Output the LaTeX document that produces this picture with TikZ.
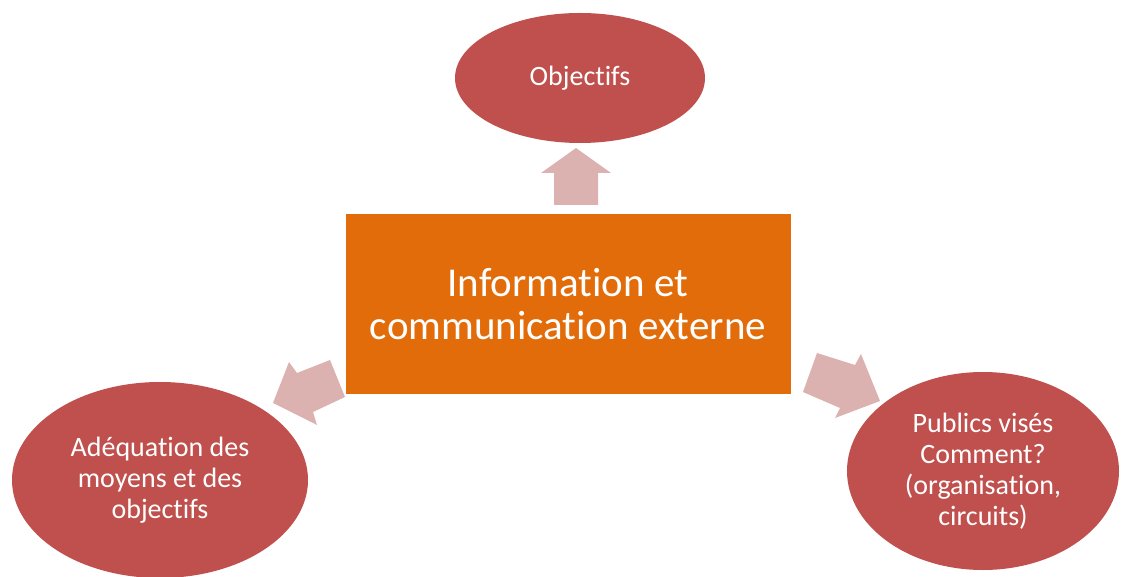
\documentclass[tikz,border=0pt]{standalone}
\usepackage{fontspec}
\setmainfont{Carlito}[RawFeature=-liga]
\usetikzlibrary{shapes.geometric}
\definecolor{ellred}{HTML}{C0504D}
\definecolor{boxorange}{HTML}{E36C0A}
\definecolor{arrpink}{HTML}{DCB2B1}
\begin{document}
\begin{tikzpicture}[x=1pt,y=-1pt,
  bubble/.style={ellipse, fill=ellred, draw=none, text=white, align=center, font=\fontsize{28}{31}\selectfont, inner sep=0pt},
  centerbox/.style={rectangle, fill=boxorange, draw=none, text=white, align=center, font=\fontsize{41}{43}\selectfont, inner sep=0pt},
  blockarrow/.style={fill=arrpink, draw=none}]
\useasboundingbox (0,0) rectangle (1122,577);
\node[bubble, minimum width=250pt, minimum height=130pt] (obj) at (580,78) {Objectifs};
\node[bubble, minimum width=296pt, minimum height=196pt] (adeq) at (160,480) {Adéquation des\\moyens et des\\objectifs};
\node[bubble, minimum width=272pt, minimum height=198pt] (pub) at (983,471) {Publics visés\\Comment?\\(organisation,\\circuits)};
\node[centerbox, minimum width=445pt, minimum height=180pt] (info) at (568,304) {Information et\\communication externe};
% block arrows
\fill[blockarrow] (554,205) -- (554,173) -- (541,173) -- (576,148) -- (611,173) -- (598,173) -- (598,205) -- cycle;
\fill[blockarrow] (330,360) -- (297,373) -- (289,362) -- (273,403) -- (317,425) -- (313,412) -- (345,397) -- cycle;
\fill[blockarrow] (817,353) -- (855,365) -- (861,354) -- (880,401) -- (835,418) -- (840,408) -- (803,392) -- cycle;
\end{tikzpicture}
\end{document}
